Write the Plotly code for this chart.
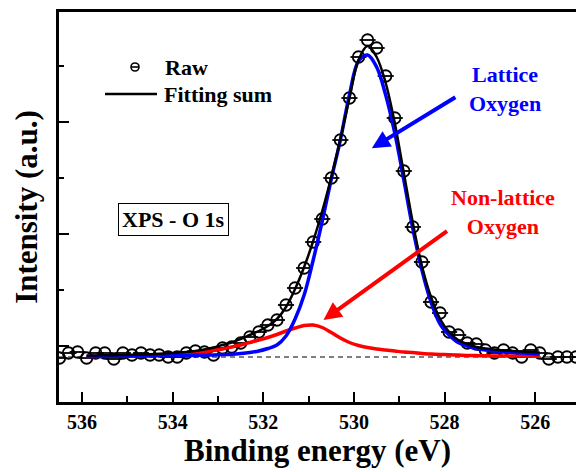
import plotly.graph_objects as go

# ---------------- data ----------------
raw_be = [536.5, 536.3, 536.1, 535.9, 535.7, 535.5, 535.3, 535.1, 534.9, 534.7,
          534.5, 534.3, 534.1, 533.9, 533.7, 533.5, 533.3, 533.1, 532.9, 532.7,
          532.5, 532.3, 532.1, 531.9, 531.7, 531.5, 531.3, 531.1, 530.9, 530.7,
          530.5, 530.3, 530.1, 529.9, 529.7, 529.5, 529.3, 529.1, 528.9, 528.7,
          528.5, 528.3, 528.1, 527.9, 527.7, 527.5, 527.3, 527.1, 526.9, 526.7,
          526.5, 526.3, 526.1, 525.9, 525.7, 525.5, 525.3, 525.1]
raw_int = [-1, 4, 5, -1, 4, 4, -2, 4, 2, 4,
           2, 2, 0, 0, 4, 6, 5, 2, 9, 10,
           14, 20, 25, 32, 37, 52, 69, 89, 115, 138,
           179, 217, 259, 300, 317, 309, 281, 239, 186, 130,
           95, 55, 44, 25, 22, 14, 13, 7, 4, 7,
           4, 0, 7, 4, -2, 0, 0, 0]

fit_be = [535.9, 535.7, 535.5, 535.3, 535.1, 534.9, 534.7, 534.5, 534.3, 534.1,
          533.9, 533.7, 533.5, 533.3, 533.1, 532.9, 532.7, 532.5, 532.3, 532.1,
          531.9, 531.7, 531.5, 531.3, 531.1, 530.9, 530.7, 530.5, 530.3, 530.1,
          529.9, 529.7, 529.5, 529.3, 529.1, 528.9, 528.7, 528.5, 528.3, 528.1,
          527.9, 527.7, 527.5, 527.3, 527.1, 526.9, 526.7, 526.5, 526.3, 526.1,
          525.9]
fit_sum = [1.5, 1.6, 1.7, 1.8, 2.0, 2.2, 2.5, 2.8, 3.2, 3.7,
           4.3, 5.0, 6.0, 7.5, 9.5, 12, 14.5, 18, 22, 26,
           31, 38, 50, 68, 90, 116, 146, 180, 218, 259,
           297, 311, 300, 274, 234, 184, 134, 91, 60, 38,
           25, 17, 13, 10, 8.5, 7.5, 6.5, 6, 5.5, 5,
           4.5]
lattice = [0.5, 0.5, 0.6, 0.7, 0.8, 0.9, 1.0, 1.1, 1.2, 1.3,
           1.4, 1.5, 1.7, 1.9, 2.1, 2.4, 2.8, 3.5, 4.5, 6,
           8.5, 12, 21, 38, 62, 97, 136, 178, 217, 262,
           296, 302, 290, 262, 224, 177, 128, 87, 55, 33,
           22, 14.5, 11, 8.5, 7, 6, 5, 4.5, 4, 3.5,
           3]
non_lattice = [0.5, 0.6, 0.7, 0.8, 0.9, 1.1, 1.3, 1.5, 1.8, 2.1,
               2.6, 3.2, 4, 5, 6.5, 8, 10, 12, 14.5, 17,
               19.5, 22.5, 26, 29, 31.5, 32, 29.5, 24.5, 19, 14.5,
               11.5, 9.5, 8, 7, 6, 5, 4.5, 3.5, 3, 2.6,
               2.2, 1.9, 1.6, 1.4, 1.2, 1.1, 1.0, 0.9, 0.9, 0.8,
               0.8]

x_range = [536.51, 525.10]
y_range = [-45, 345]

# ---------------- layout helpers ----------------
FONT = "Liberation Serif, Times New Roman, serif"
L, R, T, B = 59, 576, 12, 402
W, H = R - L, B - T


def pxp(xp):
    return (xp - L) / W


def pyp(yp):
    return (B - yp) / H


fig = go.Figure()

fig.add_trace(go.Scatter(
    x=raw_be, y=raw_int, mode="markers", name="Raw", showlegend=False,
    marker=dict(symbol="circle-open", size=11.5, color="black",
                line=dict(width=1.8, color="black"))))
fig.add_trace(go.Scatter(
    x=raw_be, y=raw_int, mode="markers", showlegend=False, hoverinfo="skip",
    marker=dict(symbol="line-ew", size=11.5, color="black",
                line=dict(width=1.8, color="black"))))
fig.add_trace(go.Scatter(
    x=fit_be, y=non_lattice, mode="lines", name="Non-lattice Oxygen",
    showlegend=False, line=dict(color="#ff0000", width=3.5, shape="spline")))
fig.add_trace(go.Scatter(
    x=fit_be, y=lattice, mode="lines", name="Lattice Oxygen",
    showlegend=False, line=dict(color="#0000ff", width=3.5, shape="spline")))
fig.add_trace(go.Scatter(
    x=fit_be, y=fit_sum, mode="lines", name="Fitting sum",
    showlegend=False, line=dict(color="black", width=2.5, shape="spline")))

shapes = [
    # dashed baseline
    dict(type="line", xref="paper", x0=0, x1=1, yref="y", y0=0, y1=0,
         line=dict(color="black", width=1, dash="5px,4px"), layer="below"),
    # legend: raw symbol
    dict(type="circle", xref="paper", yref="paper",
         x0=pxp(131), x1=pxp(139), y0=pyp(71), y1=pyp(63),
         line=dict(color="black", width=1.6)),
    dict(type="line", xref="paper", yref="paper",
         x0=pxp(131), x1=pxp(139), y0=pyp(67), y1=pyp(67),
         line=dict(color="black", width=1.6)),
    # legend: fitting sum line
    dict(type="line", xref="paper", yref="paper",
         x0=pxp(105), x1=pxp(157), y0=pyp(94), y1=pyp(94),
         line=dict(color="black", width=2.5)),
]

ann = [
    dict(text="Raw", xref="paper", yref="paper", x=pxp(163), y=pyp(67),
         xanchor="left", yanchor="middle", showarrow=False,
         font=dict(family=FONT, size=22, color="black", weight="bold")),
    dict(text="Fitting sum", xref="paper", yref="paper", x=pxp(162), y=pyp(94),
         xanchor="left", yanchor="middle", showarrow=False,
         font=dict(family=FONT, size=22, color="black", weight="bold")),
    dict(text="XPS - O 1s", xref="paper", yref="paper", x=pxp(173), y=pyp(219),
         xanchor="center", yanchor="middle", showarrow=False,
         bordercolor="black", borderwidth=1, borderpad=3, bgcolor="white",
         font=dict(family=FONT, size=22, color="black", weight="bold")),
    dict(text="Lattice<br>Oxygen", xref="paper", yref="paper", x=pxp(505), y=pyp(89),
         xanchor="center", yanchor="middle", showarrow=False,
         font=dict(family=FONT, size=22, color="#0000ff", weight="bold")),
    dict(text="Non-lattice<br>Oxygen", xref="paper", yref="paper", x=pxp(503), y=pyp(212),
         xanchor="center", yanchor="middle", showarrow=False,
         font=dict(family=FONT, size=22, color="#ff0000", weight="bold")),
    # arrows
    dict(text="", x=529.605, y=208.7, xref="x", yref="y", ax=85, ay=-52,
         showarrow=True, arrowhead=2, arrowsize=0.9, arrowwidth=4,
         arrowcolor="#0000ff", standoff=0),
    dict(text="", x=530.673, y=37, xref="x", yref="y", ax=125, ay=-90,
         showarrow=True, arrowhead=2, arrowsize=0.9, arrowwidth=4,
         arrowcolor="#ff0000", standoff=0),
]

fig.update_layout(
    width=576, height=472,
    margin=dict(l=L, r=576 - R, t=T, b=472 - B, pad=0),
    paper_bgcolor="white", plot_bgcolor="white",
    showlegend=False,
    shapes=shapes, annotations=ann,
    font=dict(family=FONT, color="black"),
)

fig.update_xaxes(
    range=x_range, showline=True, linewidth=3, linecolor="black", mirror=True,
    ticks="inside", ticklen=10, tickwidth=2, tickcolor="black",
    tick0=526, dtick=2, showgrid=False, zeroline=False,
    minor=dict(dtick=1, ticklen=6, tickwidth=2, ticks="inside", tickcolor="black"),
    tickfont=dict(family=FONT, size=20, color="black", weight="bold"),
    ticklabelstandoff=0,
    title=dict(text="Binding energy (eV)", standoff=0,
               font=dict(family=FONT, size=31, color="black", weight="bold")),
)
fig.update_yaxes(
    range=y_range, showline=True, linewidth=3, linecolor="black", mirror=False,
    ticks="inside", ticklen=10, tickwidth=2, tickcolor="black",
    tick0=11, dtick=112, showgrid=False, zeroline=False, showticklabels=False,
    minor=dict(tick0=11, dtick=56, ticklen=5, tickwidth=2, ticks="inside", tickcolor="black"),
    title=dict(text="Intensity (a.u.)", standoff=10,
               font=dict(family=FONT, size=31, color="black", weight="bold")),
)

fig.write_html("out.html")
